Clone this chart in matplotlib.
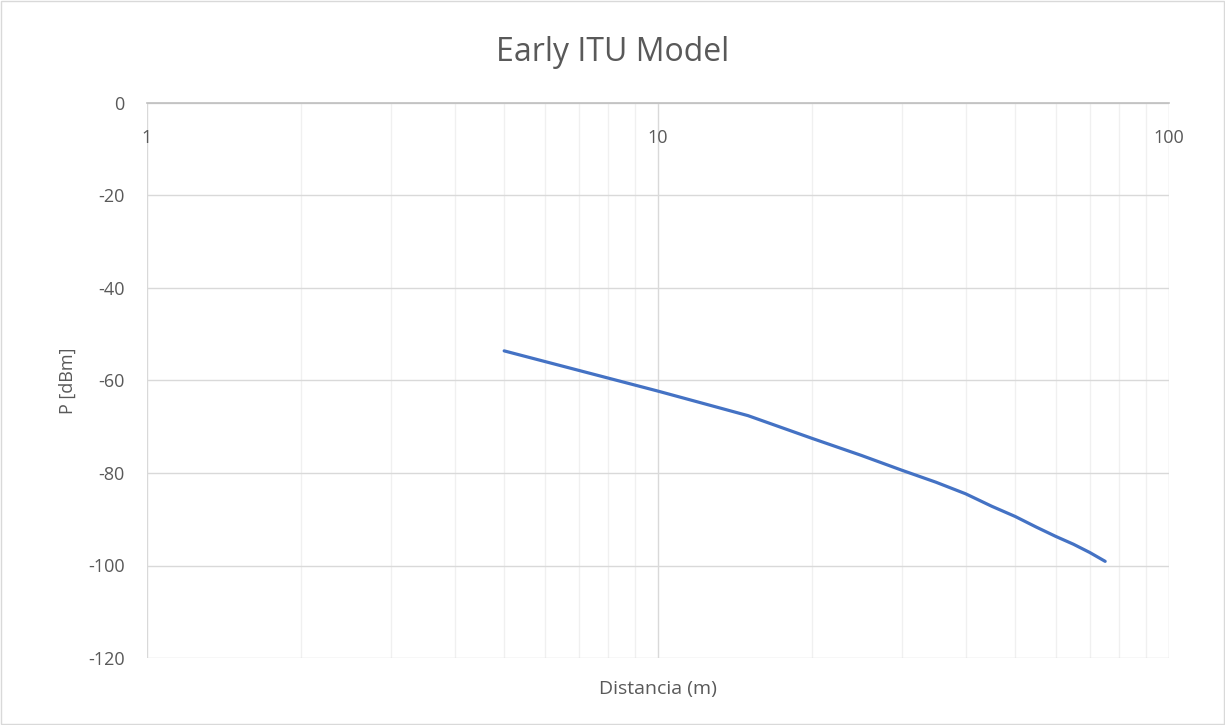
import matplotlib.pyplot as plt
from matplotlib.ticker import FixedLocator, NullFormatter

plt.rcParams['font.family'] = ['Open Sans', 'DejaVu Sans']
plt.rcParams['axes.unicode_minus'] = False

distance = [5, 10, 15, 20, 25, 30, 35, 40, 45, 50, 55, 60, 65, 70, 75]
power = [-53.6, -62.3, -67.6, -72.5, -76.2, -79.4, -82.0, -84.5, -87.2,
         -89.4, -91.7, -93.7, -95.4, -97.2, -99.1]

x_ticks = [1, 10, 100]
x_tick_labels = ["1", "10", "100"]
y_ticks = [0, -20, -40, -60, -80, -100, -120]

text_color = "#595959"

fig = plt.figure(figsize=(12.25, 7.25), dpi=100)
ax = fig.add_axes([0.12, 0.0924, 0.8343, 0.7656])

ax.plot(distance, power, color="#4472C4", lw=2.3, solid_capstyle="round")

ax.set_xscale("log")
ax.set_xlim(1, 100)
ax.set_ylim(-120, 0)

ax.xaxis.set_major_locator(FixedLocator(x_ticks))
ax.set_xticklabels(x_tick_labels)
minor = [m * d for d in (1, 10) for m in range(2, 10)]
ax.xaxis.set_minor_locator(FixedLocator(minor))
ax.xaxis.set_minor_formatter(NullFormatter())
ax.set_yticks(y_ticks)

ax.grid(which="major", axis="y", color="#d9d9d9", lw=1)
ax.grid(which="major", axis="x", color="#d9d9d9", lw=1)
ax.grid(which="minor", axis="x", color="#f0f0f0", lw=1)

for s in ["left", "right", "bottom"]:
    ax.spines[s].set_visible(False)
ax.spines["top"].set_color("#bfbfbf")
ax.spines["top"].set_linewidth(1.2)
ax.set_axisbelow(True)

ax.tick_params(axis="x", which="both", bottom=False, labelbottom=False,
               top=False, labeltop=True, length=0, pad=-32,
               labelsize=13, labelcolor=text_color)
ax.tick_params(axis="y", length=0, pad=16, labelsize=13, labelcolor=text_color)

fig.text(0.5, 0.928, "Early ITU Model", fontsize=23, color=text_color,
         ha="center", va="center")
ax.set_xlabel("Distancia (m)", fontsize=14, color=text_color, labelpad=16)
ax.set_ylabel("P [dBm]", fontsize=13, color=text_color, labelpad=8)

border = plt.Rectangle((0.001, 0.001), 0.998, 0.998, transform=fig.transFigure,
                       fill=False, edgecolor="#d9d9d9", lw=1)
fig.patches.append(border)

fig.savefig("out.png", dpi=100)
